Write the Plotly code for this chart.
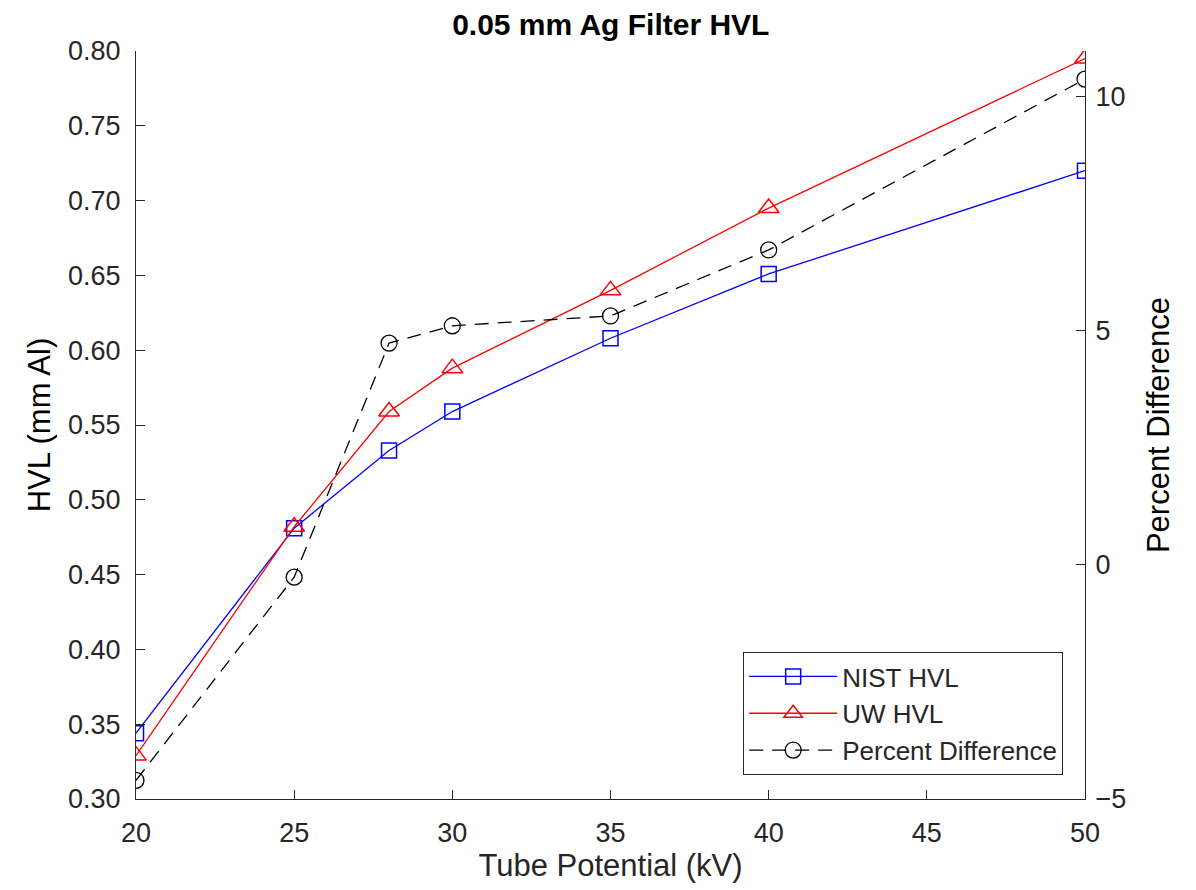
import plotly.graph_objects as go

kv = [20, 25, 28, 30, 35, 40, 50]
nist_hvl = [0.344, 0.481, 0.533, 0.559, 0.608, 0.651, 0.720]
uw_hvl = [0.329, 0.482, 0.559, 0.588, 0.640, 0.695, 0.795]
pct_diff = [-4.6, -0.26, 4.74, 5.11, 5.32, 6.73, 10.38]

title = "0.05 mm Ag Filter HVL"
font = "Liberation Sans, Arial, Helvetica, sans-serif"
tick_color = "#262626"

fig = go.Figure()
fig.add_trace(go.Scatter(x=kv, y=nist_hvl, name="NIST HVL", mode="lines+markers",
                         line=dict(color="#0000ff", width=1.3),
                         marker=dict(symbol="square-open", size=15, color="#0000ff", line=dict(width=1.5))))
fig.add_trace(go.Scatter(x=kv, y=uw_hvl, name="UW HVL", mode="lines+markers",
                         line=dict(color="#ff0000", width=1.3),
                         marker=dict(symbol="triangle-up-open", size=18, color="#ff0000", line=dict(width=1.5))))
fig.add_trace(go.Scatter(x=kv, y=pct_diff, name="Percent Difference", mode="lines+markers", yaxis="y2",
                         line=dict(color="#000000", width=1.3, dash="14px,9px"),
                         marker=dict(symbol="circle-open", size=16, color="#000000", line=dict(width=1.3))))

axis_common = dict(showgrid=False, zeroline=False, ticks="inside", ticklen=9, tickwidth=1,
                   tickcolor="#262626", showline=True, linecolor="#262626", linewidth=1,
                   automargin=False,
                   tickfont=dict(family=font, size=27, color=tick_color))

fig.update_layout(
    width=1196, height=890,
    paper_bgcolor="white", plot_bgcolor="white",
    margin=dict(l=128, r=119, t=43, b=99),
    title=dict(text="<b>" + title + "</b>", x=0.504, xanchor="center", y=0.981, yanchor="middle",
               automargin=False,
               font=dict(family=font, size=30, color="black")),
    xaxis=dict(range=[20, 50], tickvals=[20, 25, 30, 35, 40, 45, 50], ticklabelstandoff=10,
               title=dict(text="Tube Potential (kV)", font=dict(family=font, size=31, color=tick_color), standoff=2),
               **axis_common),
    yaxis=dict(range=[0.30, 0.80], tickvals=[0.30, 0.35, 0.40, 0.45, 0.50, 0.55, 0.60, 0.65, 0.70, 0.75, 0.80],
               tickformat=".2f", ticklabelstandoff=9,
               title=dict(text="HVL (mm Al)", font=dict(family=font, size=31, color="black"), standoff=8),
               **axis_common),
    yaxis2=dict(range=[-5, 10.98], tickvals=[-5, 0, 5, 10], overlaying="y", side="right", ticklabelstandoff=4,
                title=dict(text="Percent Difference", font=dict(family=font, size=31, color="black"), standoff=22),
                **axis_common),
    legend=dict(x=0.977, xanchor="right", y=0.032, yanchor="bottom",
                bgcolor="white", bordercolor="#262626", borderwidth=1, itemwidth=88,
                font=dict(family=font, size=26, color=tick_color), tracegroupgap=0),
    showlegend=True,
)

fig.write_html("out.html")
